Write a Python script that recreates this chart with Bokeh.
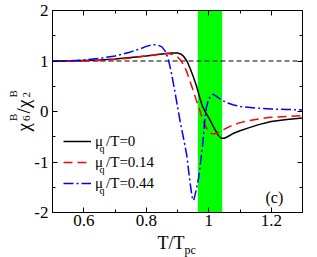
import math
from bokeh.plotting import figure
from bokeh.models import (Range1d, FixedTicker, LinearAxis, BoxAnnotation,
                          Label, Legend, LegendItem, CustomLabelingPolicy)
from bokeh.embed import file_html
from bokeh.resources import INLINE

# ---------------- data ----------------
T_mu0 = [0.5, 0.55, 0.6, 0.65, 0.7, 0.75, 0.8, 0.85, 0.88, 0.9, 0.91, 0.92, 0.93,
         0.94, 0.95, 0.96, 0.97, 0.98, 0.99, 1.0, 1.01, 1.02, 1.03, 1.04, 1.05,
         1.06, 1.08, 1.1, 1.13, 1.16, 1.2, 1.25, 1.3]
R_mu0 = [1.0, 1.0, 1.01, 1.02, 1.04, 1.07, 1.1, 1.14, 1.16, 1.16, 1.14, 1.09, 1.0,
         0.86, 0.7, 0.52, 0.3, 0.1, -0.02, -0.12, -0.24, -0.36, -0.47, -0.53, -0.53,
         -0.5, -0.43, -0.38, -0.32, -0.26, -0.2, -0.16, -0.13]

T_mu014 = [0.5, 0.55, 0.6, 0.65, 0.7, 0.75, 0.8, 0.85, 0.87, 0.885, 0.9, 0.91, 0.92,
           0.93, 0.94, 0.95, 0.96, 0.97, 0.98, 0.99, 1.0, 1.01, 1.02, 1.03, 1.05,
           1.07, 1.1, 1.13, 1.19, 1.25, 1.3]
R_mu014 = [1.0, 1.0, 1.0, 1.01, 1.03, 1.06, 1.1, 1.14, 1.15, 1.13, 1.08, 1.02, 0.92,
           0.78, 0.6, 0.42, 0.23, 0.05, -0.15, -0.3, -0.4, -0.44, -0.44, -0.41, -0.35,
           -0.29, -0.22, -0.18, -0.12, -0.1, -0.08]

T_mu044 = [0.5, 0.55, 0.6, 0.65, 0.7, 0.75, 0.78, 0.8, 0.82, 0.835, 0.85, 0.86, 0.87,
           0.88, 0.89, 0.9, 0.91, 0.92, 0.93, 0.94, 0.948, 0.952, 0.96, 0.968, 0.975,
           0.981, 0.987, 0.993, 1.0, 1.01, 1.015, 1.025, 1.04, 1.06, 1.08, 1.1, 1.15,
           1.2, 1.25, 1.3]
R_mu044 = [1.0, 1.0, 1.02, 1.05, 1.1, 1.18, 1.24, 1.29, 1.32, 1.32, 1.28, 1.2, 1.05,
           0.78, 0.45, 0.1, -0.25, -0.55, -0.88, -1.4, -1.74, -1.76, -1.55, -1.3, -0.95,
           -0.63, -0.2, 0.1, 0.25, 0.33, 0.34, 0.3, 0.23, 0.17, 0.13, 0.1, 0.07,
           0.05, 0.04, 0.03]

band_lo, band_hi = 0.965, 1.043
ref_level = 1.0

x_ticks = [0.6, 0.8, 1.0, 1.2]
x_tick_labels = ["0.6", "0.8", "1", "1.2"]
x_minor = [0.5, 0.7, 0.9, 1.1, 1.3]
y_ticks = [-2, -1, 0, 1, 2]
y_tick_labels = ["-2", "-1", "0", "1", "2"]
y_minor = [-1.5, -0.5, 0.5, 1.5]

legend_labels = ["\u03bc\u2009/T=0", "\u03bc\u2009/T=0.14", "\u03bc\u2009/T=0.44"]

# ---------------- layout (page pixels) ----------------
FONT = "Liberation Serif"
X0, X1, Y0, Y1 = 0.5, 1.3, -2.0, 2.0
W, H = 317, 257
FL, FT, FW, FH = 52, 10, 250, 202      # axes box on the page
xs = FW / (X1 - X0)
ys = FH / (Y1 - Y0)
x_range = Range1d(X0 - FL / xs, X1 + (W - FL - FW) / xs)
y_range = Range1d(Y0 - (H - FT - FH) / ys, Y1 + FT / ys)

p = figure(width=W, height=H, output_backend="svg", toolbar_location=None,
           x_range=x_range, y_range=y_range,
           min_border=0, min_border_left=0, min_border_right=0,
           min_border_top=0, min_border_bottom=0,
           x_axis_type=None, y_axis_type=None)
p.grid.visible = False
p.background_fill_color = "white"
p.border_fill_color = "white"
p.outline_line_color = None

xt = FixedTicker(ticks=x_ticks, minor_ticks=x_minor)
yt = FixedTicker(ticks=y_ticks, minor_ticks=y_minor)

hide_labels = CustomLabelingPolicy(code="""
    const arr = Array.from(indices)
    if (typeof indices.unset === 'function') {
        for (const i of arr) indices.unset(i)
    }
    return indices
""")

def make_axis(ticker, loc, bounds, labels, overrides):
    ax = LinearAxis(ticker=ticker, fixed_location=loc, bounds=bounds,
                    major_label_overrides=overrides)
    ax.axis_line_color = "black"
    ax.axis_line_width = 1
    ax.major_tick_in = 5
    ax.major_tick_out = 0
    ax.minor_tick_in = 3
    ax.minor_tick_out = 0
    ax.major_tick_line_color = "black"
    ax.minor_tick_line_color = "black"
    if labels:
        ax.major_label_text_font = FONT
        ax.major_label_text_font_size = "17px"
        ax.major_label_text_color = "black"
    else:
        ax.major_label_text_font_size = "1px"
        ax.major_label_standoff = 0
        ax.major_label_policy = hide_labels
    return ax

xb = make_axis(xt, Y0, (X0, X1), True, dict(zip(x_ticks, x_tick_labels)))
xb.major_label_standoff = 2
p.add_layout(xb, "below")
yl = make_axis(yt, X0, (Y0, Y1), True, dict(zip(y_ticks, y_tick_labels)))
yl.major_label_standoff = 4
p.add_layout(yl, "left")
xa = make_axis(xt, Y1, (X0, X1), False, {t: "" for t in x_ticks})
p.add_layout(xa, "above")
yr = make_axis(yt, X1, (Y0, Y1), False, {t: "" for t in y_ticks})
p.add_layout(yr, "right")

# band, then dashed reference line on top of it
p.add_layout(BoxAnnotation(left=band_lo, right=band_hi, bottom=Y0, top=Y1,
                           fill_color="#00ff00", fill_alpha=1.0, line_color=None,
                           level="underlay"))
p.line([X0, X1], [ref_level, ref_level], line_color="black", line_width=1,
       line_dash="5 3")

r0 = p.line(T_mu0, R_mu0, line_color="black", line_width=1.5)
r1 = p.line(T_mu014, R_mu014, line_color="red", line_width=1.5, line_dash="9 5")
r2 = p.line(T_mu044, R_mu044, line_color="blue", line_width=1.5, line_dash="10 3 2 3")

legend = Legend(items=[LegendItem(label=legend_labels[0], renderers=[r0]),
                       LegendItem(label=legend_labels[1], renderers=[r1]),
                       LegendItem(label=legend_labels[2], renderers=[r2])],
                location=(63, H - 193), padding=0, margin=0, spacing=1,
                glyph_width=28, glyph_height=20, label_height=20,
                label_standoff=4, border_line_color=None, background_fill_alpha=0,
                label_text_font=FONT, label_text_font_size="15px",
                label_text_color="black")
p.add_layout(legend)

def lab(px, py, txt, size, angle=0.0):
    # page pixel -> screen units (frame == canvas; origin bottom-left)
    p.add_layout(Label(x=px, y=H - py, x_units="screen", y_units="screen",
                       text=txt, angle=angle, text_font=FONT, text_font_size=size,
                       text_color="black", text_align="left",
                       text_baseline="alphabetic", level="overlay"))

# subscript q in legend
for row_py in (142, 163, 184):
    lab(99, row_py + 6, "q", "10px")

# (c)
lab(265, 197, "(c)", "16px")

# x axis label T/T_pc
lab(157, 242, "T/T", "18px")
lab(184, 249, "pc", "12px")

# y axis label chi_6^B / chi_2^B (rotated)
ang = math.pi / 2
lab(23, 131, "\u03c7", "19px", ang)
lab(26, 120.5, "6", "11px", ang)
lab(12, 120.5, "B", "11px", ang)
lab(23, 113, "/", "19px", ang)
lab(23, 107.5, "\u03c7", "19px", ang)
lab(26, 97, "2", "11px", ang)
lab(12, 97, "B", "11px", ang)

open("out.html", "w").write(file_html(p, INLINE))
